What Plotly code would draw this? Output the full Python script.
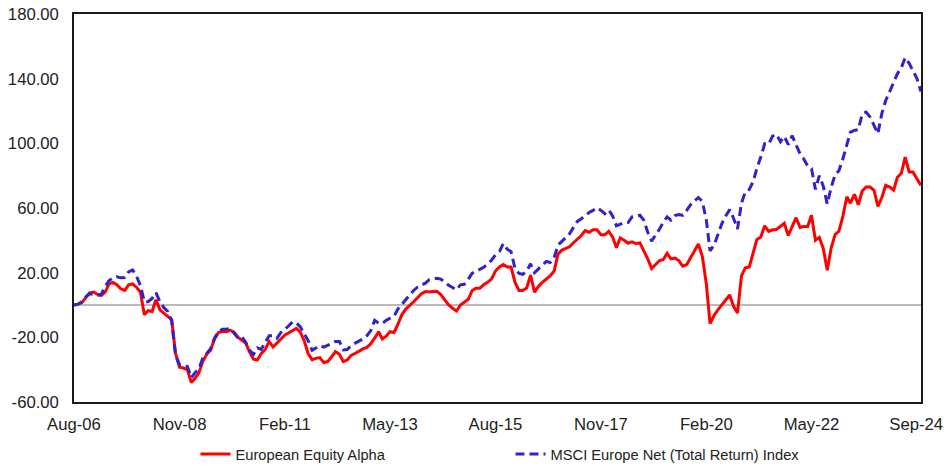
import pandas as pd
import plotly.graph_objects as go

# Monthly cumulative performance (%), Aug-06 .. Sep-24
fund_name = "European Equity Alpha"
index_name = "MSCI Europe Net (Total Return) Index"

fund_values = [
    0, 0.5, 1.5, 4.5, 7.5, 8, 6.5, 5.8, 8, 13,
    14, 12.5, 10, 9, 12.5, 13, 11, 8, -6, -3.5,
    -4, 3.3, -3, -5, -7, -9, -30, -38.5, -39, -40,
    -48, -45.5, -42, -35, -30.5, -28, -21, -17, -16.3, -16.5,
    -15.5, -17, -20, -21.5, -23.5, -29, -33.5, -34, -30, -27.5,
    -22.5, -26, -23.5, -21.5, -18.5, -17.3, -15.8, -14.5, -16.8, -22,
    -30, -33.8, -33, -32.5, -35.6, -35, -32, -28.8, -30.5, -35,
    -34, -31.2, -30, -28.5, -27.2, -26.2, -24, -20.5, -16.5, -21,
    -19.3, -16.5, -17, -12, -6, -2.5, -0.5, 2, 4.5, 7,
    8.3, 8, 8.3, 8.5, 6.5, 3.5, 0, -2, -3.7, 0,
    1.5, 3.5, 9, 10.3, 10.3, 12.5, 14, 16, 21, 23.5,
    25, 23.5, 23.5, 14, 9, 9, 10.5, 18.5, 8, 11.5,
    14, 16, 18, 21, 31.5, 34, 35, 36, 38.5, 40.5,
    43, 46, 45, 46.5, 46.5, 43.5, 43.5, 45.5, 42, 35.5,
    41.5, 40, 38.2, 39, 38, 38.4, 34, 28.5, 22.5, 25,
    27.5, 28, 32, 28.5, 29, 27.5, 24, 25, 29, 33,
    37.7, 30, 13, -11.5, -6.5, -3, 0, 3, 6.2, -1,
    -5, 18, 23, 23.5, 33, 40.5, 42, 49, 45.5, 46.5,
    46.7, 48.4, 50.5, 43, 48.4, 54, 48, 48.5, 48.5, 55.5,
    40, 41.8, 35, 21.5, 35, 43.5, 45.6, 55, 67, 63,
    68.5, 62, 70.5, 73, 73, 71, 61, 66.5, 74, 73,
    71, 79, 81.5, 91.5, 82.3, 82.3, 78, 74,
]

index_values = [
    0, 0.5, 2, 5, 7, 6.3, 6, 6.5, 11.5, 15,
    17, 17.5, 16.8, 17, 20.5, 21.7, 18, 12, 2, 2,
    4, 7.6, 2, -1.5, -4, -10, -31, -37, -37, -38,
    -45, -42, -39.5, -33, -30, -27, -20.5, -16.5, -15, -15,
    -14.4, -17.5, -20.5, -19.5, -23, -28, -30.5, -26.5, -27.5, -23,
    -19, -19, -20.5, -17, -15, -13, -10.5, -11, -13.5, -17.5,
    -22, -28, -26.5, -25, -26, -25, -23.7, -22.5, -22.5, -27.8,
    -27.5, -25, -23.7, -22.5, -21, -19, -16, -9.5, -11.2, -11.5,
    -9.5, -8.2, -7, -2.5, 0.5, 3.5, 6.5, 9, 11, 12.3,
    13.5, 15.5, 16, 16.5, 16, 14, 12.2, 10.8, 9.4, 12.5,
    12.8, 16, 19.7, 20.8, 22, 23.3, 25.3, 27.7, 31, 33,
    38, 34.5, 33, 22.5, 19.5, 19, 21, 25.5, 20, 22.5,
    24.8, 27, 26.3, 29.5, 37, 39.5, 41.5, 44, 48, 51.7,
    53.4, 55.4, 57.2, 58.5, 60.1, 58.5, 56.5, 58.8, 55, 49,
    50, 51, 51, 54.5, 55, 55.5, 52.5, 45, 39.5, 43,
    47, 51, 54.5, 52.5, 55.3, 56, 55.5, 58.5, 62, 64.5,
    66.5, 64, 52.5, 33.5, 37, 43.5, 50.3, 55, 59, 53.5,
    47, 63, 70, 71.5, 76.5, 84.5, 91.5, 99.7, 99.3, 104.5,
    105.5, 101, 104.3, 99.2, 104.8, 99, 93.5, 90.5, 86, 84.5,
    71.5, 80, 73.5, 62.5, 72.5, 80.5, 83, 90.5, 100, 107,
    108, 108.5, 118.2, 119.3, 116.3, 111.5, 106, 118.5, 126.5, 132,
    137.5, 143, 146.8, 153, 149.5, 145, 140, 132,
]

dates = pd.date_range("2006-08-01", periods=len(fund_values), freq="MS")

# tick label positions (the last label is pulled in so it fits inside the frame,
# as in the reference)
x_tick_dates = ["2006-08-01", "2008-11-01", "2011-02-01", "2013-05-01", "2015-08-01",
                "2017-11-01", "2020-02-01", "2022-05-01", "2024-07-26"]
x_tick_labels = ["Aug-06", "Nov-08", "Feb-11", "May-13", "Aug-15",
                 "Nov-17", "Feb-20", "May-22", "Sep-24"]
y_ticks = [-60, -20, 20, 60, 100, 140, 180]
y_tick_labels = ["-60.00", "-20.00", "20.00", "60.00", "100.00", "140.00", "180.00"]

FONT = "Liberation Sans, Arial, sans-serif"

fig = go.Figure()
fig.add_trace(go.Scatter(
    x=dates, y=fund_values, name=fund_name, mode="lines",
    line=dict(color="#FF0000", width=3),
))
fig.add_trace(go.Scatter(
    x=dates, y=index_values, name=index_name, mode="lines",
    line=dict(color="#3322CC", width=3, dash="9px,5px"),
))

fig.update_layout(
    width=944, height=466,
    margin=dict(l=74, r=23, t=13.5, b=64, autoexpand=False),
    paper_bgcolor="white", plot_bgcolor="white",
    font=dict(family=FONT, color="#222222"),
    showlegend=True,
    legend=dict(
        orientation="h", xref="container", yref="container",
        x=0.2071, xanchor="left", y=0.0601, yanchor="top",
        font=dict(size=14.7, family=FONT, color="#222222"),
        entrywidth=270, entrywidthmode="pixels",
        bgcolor="rgba(0,0,0,0)",
    ),
)

fig.update_xaxes(
    type="date",
    range=[dates[0], "2024-09-01 06:00"],
    tickmode="array", tickvals=x_tick_dates, ticktext=x_tick_labels,
    showgrid=False, zeroline=False, automargin=False,
    showline=True, mirror=True, linecolor="#1a1a1a", linewidth=1.5,
    ticks="", ticklabelstandoff=6, ticklabeloverflow="allow",
    tickfont=dict(size=16.7, family=FONT, color="#222222"),
)
fig.update_yaxes(
    range=[-60, 180], automargin=False,
    tickmode="array", tickvals=y_ticks, ticktext=y_tick_labels,
    showgrid=False,
    zeroline=True, zerolinecolor="#BBBBBB", zerolinewidth=1.5,
    showline=True, mirror=True, linecolor="#1a1a1a", linewidth=1.5,
    ticks="", ticklabelstandoff=10, ticklabeloverflow="allow",
    tickfont=dict(size=16.7, family=FONT, color="#222222"),
)

# remove the browser's default 8px body margin so the 944x466 figure fills the window
fig.write_html(
    "out.html",
    config={"displayModeBar": False},
    post_script="document.body.style.margin='0';document.body.style.overflow='hidden';",
)
